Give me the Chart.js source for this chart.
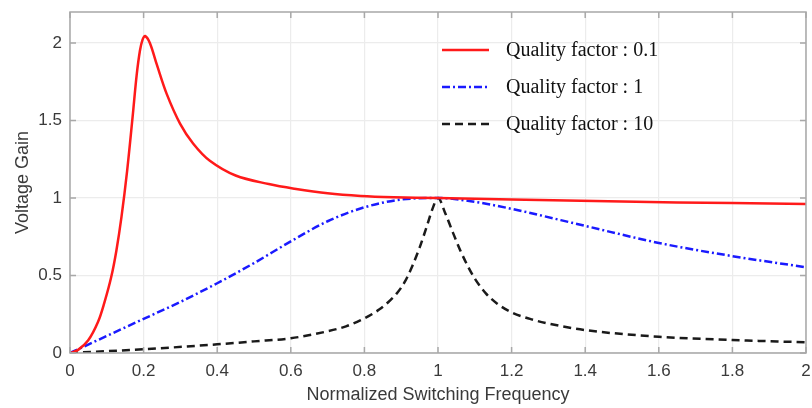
<!DOCTYPE html>
<html>
<head>
<meta charset="utf-8">
<script src="https://cdn.jsdelivr.net/npm/chart.js@4.4.1/dist/chart.umd.min.js"></script>
<style>
  html, body { margin: 0; padding: 0; background: #fff; }
</style>
</head>
<body>
<canvas id="gainChart" width="812" height="408"></canvas>
<script>
// values (normalized freq -> voltage gain)
const freqQ01 = [0, 0.022, 0.049, 0.076, 0.094, 0.112, 0.126, 0.14, 0.155, 0.17, 0.181, 0.19, 0.197, 0.204, 0.217, 0.236, 0.263, 0.299, 0.335, 0.38, 0.45, 0.54, 0.61, 0.7, 0.79, 0.88, 1.0, 1.2, 1.5, 1.8, 2.0];
const gainQ01 = [0, 0.02, 0.08, 0.2, 0.33, 0.49, 0.66, 0.88, 1.17, 1.52, 1.79, 1.95, 2.02, 2.045, 2.0, 1.86, 1.67, 1.48, 1.35, 1.24, 1.145, 1.09, 1.06, 1.03, 1.013, 1.005, 1.0, 0.99, 0.977, 0.967, 0.962];

const freqQ1 = [0, 0.1, 0.2, 0.3, 0.4, 0.5, 0.6, 0.7, 0.8, 0.9, 1.0, 1.1, 1.2, 1.4, 1.6, 1.8, 2.0];
const gainQ1 = [0, 0.11, 0.22, 0.33, 0.45, 0.58, 0.72, 0.85, 0.94, 0.99, 1.0, 0.975, 0.93, 0.82, 0.71, 0.625, 0.553];

const freqQ10 = [0, 0.2, 0.4, 0.5, 0.6, 0.7, 0.75, 0.79, 0.84, 0.87, 0.89, 0.91, 0.93, 0.95, 0.97, 0.985, 1.0, 1.02, 1.04, 1.06, 1.08, 1.1, 1.13, 1.16, 1.2, 1.25, 1.3, 1.4, 1.6, 1.8, 2.0];
const gainQ10 = [0, 0.024, 0.056, 0.075, 0.095, 0.14, 0.172, 0.212, 0.28, 0.34, 0.39, 0.46, 0.56, 0.68, 0.82, 0.93, 1.0, 0.9, 0.78, 0.665, 0.565, 0.48, 0.385, 0.32, 0.262, 0.22, 0.19, 0.148, 0.105, 0.084, 0.069];

const xTicks = [0, 0.2, 0.4, 0.6, 0.8, 1, 1.2, 1.4, 1.6, 1.8, 2];
const yTicks = [0, 0.5, 1, 1.5, 2];

const seriesNames = ["Quality factor : 0.1", "Quality factor : 1", "Quality factor : 10"];

const frameColor = "#a8a8a8";
const textColor = "#3a3a3a";

function toPoints(xs, ys) {
    return xs.map((x, i) => ({ x: x, y: ys[i] }));
}

// legend inside the plot (top right), matlab style
const insideLegend = {
    id: "insideLegend",
    afterDraw(chart) {
        const ctx = chart.ctx;
        const area = chart.chartArea;
        ctx.save();
        chart.data.datasets.forEach((ds, i) => {
            const y = area.top + 38 + i * 37;
            const x0 = area.right - 364;
            ctx.strokeStyle = ds.borderColor;
            ctx.lineWidth = 2.5;
            ctx.setLineDash(ds.borderDash || []);
            ctx.beginPath();
            ctx.moveTo(x0, y);
            ctx.lineTo(x0 + 47, y);
            ctx.stroke();
            ctx.setLineDash([]);
            ctx.fillStyle = "#111";
            ctx.font = '20px "Liberation Serif", "Times New Roman", serif';
            ctx.textBaseline = "middle";
            ctx.fillText(ds.label, x0 + 64, y + 1);
        });
        ctx.restore();
    }
};

// box round the axes + small ticks pointing inward
const axesBox = {
    id: "axesBox",
    afterDatasetsDraw(chart) {
        const ctx = chart.ctx;
        const a = chart.chartArea;
        const xs = chart.scales.x, ys = chart.scales.y;
        ctx.save();
        ctx.strokeStyle = frameColor;
        ctx.lineWidth = 1.5;
        ctx.strokeRect(a.left, a.top, a.right - a.left, a.bottom - a.top);
        ctx.beginPath();
        xTicks.forEach(v => {
            const px = xs.getPixelForValue(v);
            ctx.moveTo(px, a.bottom); ctx.lineTo(px, a.bottom - 6);
            ctx.moveTo(px, a.top); ctx.lineTo(px, a.top + 6);
        });
        yTicks.forEach(v => {
            const py = ys.getPixelForValue(v);
            ctx.moveTo(a.left, py); ctx.lineTo(a.left + 6, py);
            ctx.moveTo(a.right, py); ctx.lineTo(a.right - 6, py);
        });
        ctx.stroke();
        ctx.restore();
    }
};

const data = {
    datasets: [{
        label: seriesNames[0],
        data: toPoints(freqQ01, gainQ01),
        borderColor: "#ff1a1a",
        borderWidth: 2.5,
        pointRadius: 0,
        tension: 0.35
    }, {
        label: seriesNames[1],
        data: toPoints(freqQ1, gainQ1),
        borderColor: "#1a1aff",
        borderWidth: 2.5,
        borderDash: [8, 3, 2, 3],
        pointRadius: 0,
        cubicInterpolationMode: "monotone"
    }, {
        label: seriesNames[2],
        data: toPoints(freqQ10, gainQ10),
        borderColor: "#1a1a1a",
        borderWidth: 2.5,
        borderDash: [8, 5],
        pointRadius: 0,
        cubicInterpolationMode: "monotone"
    }]
};

const tickFont = { family: '"Liberation Sans", Arial, sans-serif', size: 17 };

const config = {
    type: "line",
    data: data,
    plugins: [axesBox, insideLegend],
    options: {
        responsive: false,
        animation: false,
        layout: { padding: { top: 12, right: 6, left: 0, bottom: 0 } },
        plugins: { legend: { display: false }, tooltip: { enabled: false } },
        scales: {
            x: {
                type: "linear",
                min: 0, max: 2,
                afterBuildTicks: s => { s.ticks = xTicks.map(v => ({ value: v })); },
                afterFit: s => { s.height = 55; s.paddingLeft = 0; s.paddingRight = 0; },
                ticks: { color: textColor, font: tickFont, padding: 8, maxRotation: 0, callback: v => String(v) },
                grid: { color: "#ececec", lineWidth: 1.2, drawTicks: false },
                border: { display: false },
                title: { display: true, text: "Normalized Switching Frequency", color: textColor, font: { family: tickFont.family, size: 18 }, padding: { top: 0, bottom: 2 } }
            },
            y: {
                type: "linear",
                min: 0, max: 2.2,
                afterBuildTicks: s => { s.ticks = yTicks.map(v => ({ value: v })); },
                afterFit: s => { s.width = 70; s.paddingTop = 0; s.paddingBottom = 0; },
                ticks: { color: textColor, font: tickFont, padding: 8, callback: v => String(v) },
                grid: { color: "#ececec", lineWidth: 1.2, drawTicks: false },
                border: { display: false },
                title: { display: true, text: "Voltage Gain", color: textColor, font: { family: tickFont.family, size: 18 }, padding: { top: 12, bottom: 0 } }
            }
        }
    }
};

const ctx = document.getElementById("gainChart").getContext("2d");
new Chart(ctx, config);
</script>
</body>
</html>
